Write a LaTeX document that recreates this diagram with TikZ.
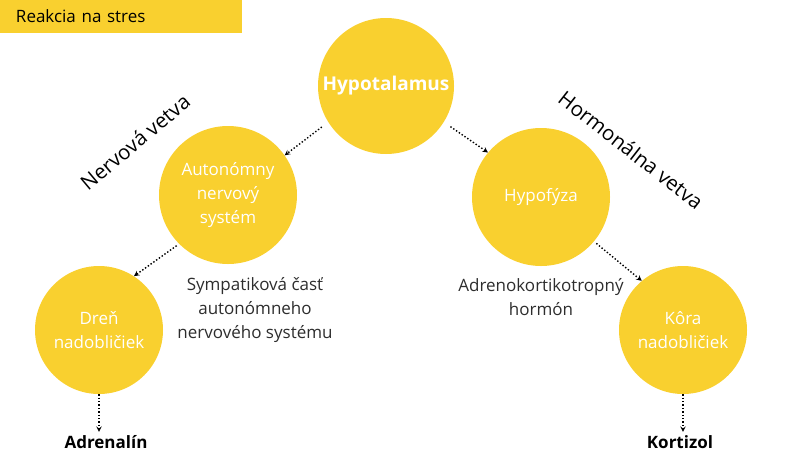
\documentclass[tikz,border=0pt]{standalone}
\usepackage{fontspec}
\setmainfont{Open Sans}
\usepackage{xcolor}
\usepackage{tikz}
\usetikzlibrary{shapes.geometric, arrows}
\definecolor{stressyellow}{RGB}{249,208,47}
\definecolor{labelgray}{RGB}{45,45,45}
\tikzstyle{titlebox} = [rectangle, minimum width=242pt, minimum height=33pt, text width=210pt, inner xsep=16pt, align=left, fill=stressyellow, text=black, font=\fontsize{17}{20}\selectfont]
\tikzstyle{bubble} = [circle, minimum size=138pt, inner sep=0pt, text centered, align=center, fill=stressyellow, text=white, font=\fontsize{17}{24}\selectfont]
\tikzstyle{smallbubble} = [bubble, minimum size=128pt]
\tikzstyle{caption} = [text centered, align=center, text=labelgray, font=\fontsize{17}{24}\selectfont]
\tikzstyle{result} = [text=black, font=\fontsize{17}{20}\selectfont\bfseries]
\tikzstyle{branch} = [text=black, font=\fontsize{20.5}{24}\selectfont]
\tikzstyle{arrow} = [line width=1.4pt, dotted, ->, >=stealth]

\begin{document}
\begin{tikzpicture}[x=1pt, y=1pt, node distance=109pt]
                \useasboundingbox (0,0) rectangle (800,-472);
                \node (title) [titlebox] at (121,-16.5) {Reakcia na stres};

% ---------------------------------------------
% Top
% ---------------------------------------------
                \node (hypo) [bubble, minimum size=136pt, font=\fontsize{19}{22}\selectfont\bfseries] at (386,-86) {Hypotalamus};

% ---------------------------------------------
% Left Division (nervous)
% ---------------------------------------------
                \node (ans) [bubble, below of = hypo, xshift=-158pt] {Autonómny\\nervový\\systém};
                \node (nervbranch) [branch, left of = ans, xshift=16pt, yshift=53pt, rotate=40] {Nervová vetva};
                \node (dren) [smallbubble, below of = ans, xshift=-129pt, yshift=-26pt] {Dreň\\nadobličiek};
                \node (sympat) [caption, below of = ans, xshift=27pt, yshift=-6pt] {Sympatiková časť\\autonómneho\\nervového systému};
                \node (adrenalin) [result, below of = dren, xshift=7pt, yshift=-3pt] {Adrenalín};

% ---------------------------------------------
% Right Division (hormonal)
% ---------------------------------------------
                \node (hyp) [bubble, below of = hypo, xshift=155pt, yshift=-2pt] {Hypofýza};
                \node (hormbranch) [branch, right of = hyp, xshift=-19pt, yshift=47pt, rotate=-38] {Hormonálna vetva};
                \node (kora) [smallbubble, below of = hyp, xshift=142pt, yshift=-24pt] {Kôra\\nadobličiek};
                \node (acth) [caption, below of = hyp, yshift=9pt] {Adrenokortikotropný\\hormón};
                \node (kortizol) [result, below of = kora, xshift=-3pt, yshift=-3pt] {Kortizol};

% ---------------------------------------------
% All arrows
% ---------------------------------------------
                \draw [arrow, shorten <=8pt] (hypo.212) -- (ans.35);
                \draw [arrow, shorten <=8pt] (hypo.-32) -- (hyp.140);
                \draw [arrow, shorten <=3pt] (ans.225) -- (dren.57);
                \draw [arrow, shorten <=3pt] (hyp.-40) -- (kora.130);
                \draw [arrow] (dren.south) -- (adrenalin.north -| dren.south);
                \draw [arrow] (kora.south) -- (kortizol.north -| kora.south);

\end{tikzpicture}
\end{document}
